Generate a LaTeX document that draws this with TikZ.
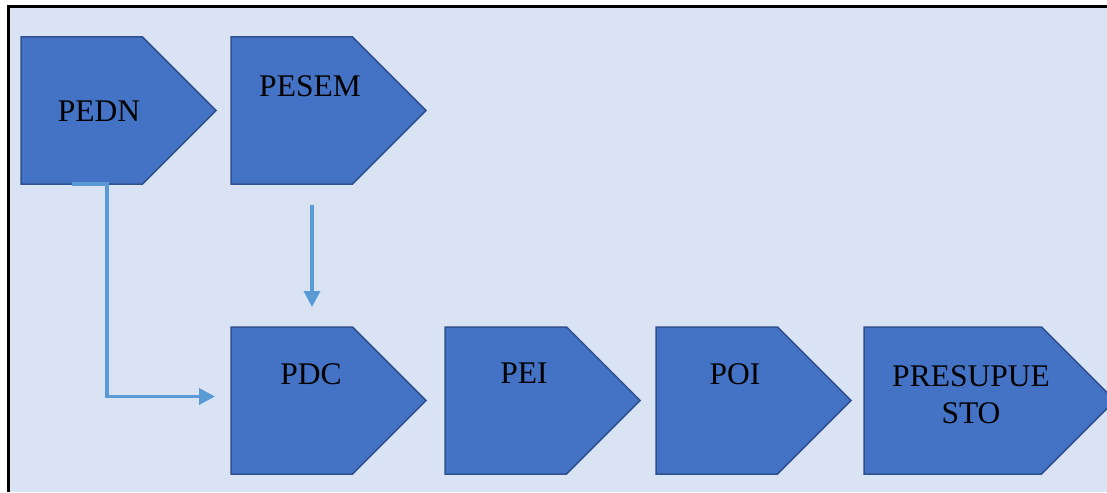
\documentclass[tikz,border=0pt]{standalone}
\usepackage{fontspec}
\setmainfont{Liberation Serif}
\usetikzlibrary{arrows.meta, positioning, shapes.symbols}
\definecolor{stFill}{HTML}{4472C4}
\definecolor{stEdge}{HTML}{2F528F}
\definecolor{stBack}{HTML}{DAE3F3}
\definecolor{stLink}{HTML}{5B9BD5}

\begin{document}
\begin{tikzpicture}[x=1pt, y=-1pt,
  node distance=15pt and 15pt,
  stage/.style={signal, signal to=east, signal pointer angle=90,
                draw=stEdge, fill=stFill, line width=1.5pt, inner sep=0pt, outer sep=0pt,
                minimum height=147pt, minimum width=195pt},
  stagetxt/.style={anchor=north, inner sep=0pt, align=center,
                   font=\fontsize{31.5}{37}\selectfont},
  link/.style={-{Triangle[length=16pt, width=16pt]}, line width=3.5pt, color=stLink}
]
  \useasboundingbox (0,0) rectangle (1107,492);
  \fill[stBack] (7,5) rectangle (1107,492);
  \draw[line width=3.5pt] (8.5,492) -- (8.5,6.5) -- (1107,6.5);

  \node[stage, anchor=north west] (pedn) at (21,37) {};
  \node[stage, right=15pt of pedn]    (pesem)  {};
  \node[stage, below=143pt of pesem]  (pdc)    {};
  \node[stage, right=19pt of pdc]     (pei)    {};
  \node[stage, right=16pt of pei]     (poi)    {};
  \node[stage, right=13pt of poi, minimum width=251pt] (presup) {};

  \node[stagetxt] (pednlbl)   at ([xshift=78pt, yshift=-64pt]pedn.north west)   {PEDN};
  \node[stagetxt] (pesemlbl)  at ([xshift=79pt, yshift=-38pt]pesem.north west)  {PESEM};
  \node[stagetxt] (pdclbl)    at ([xshift=80pt, yshift=-36pt]pdc.north west)    {PDC};
  \node[stagetxt] (peilbl)    at ([xshift=79pt, yshift=-36pt]pei.north west)    {PEI};
  \node[stagetxt] (poilbl)    at ([xshift=79pt, yshift=-36pt]poi.north west)    {POI};
  \node[stagetxt] (presuplbl) at ([xshift=107pt, yshift=-38pt]presup.north west) {PRESUPUE\\STO};

  \draw[link] ([xshift=51pt]pedn.south west) -- ++(35pt,0pt) |- ([xshift=-16pt, yshift=4pt]pdc.west);
  \draw[link] ([xshift=81pt, yshift=-21pt]pesem.south west) -- ([xshift=81pt, yshift=20pt]pdc.north west);
\end{tikzpicture}
\end{document}
